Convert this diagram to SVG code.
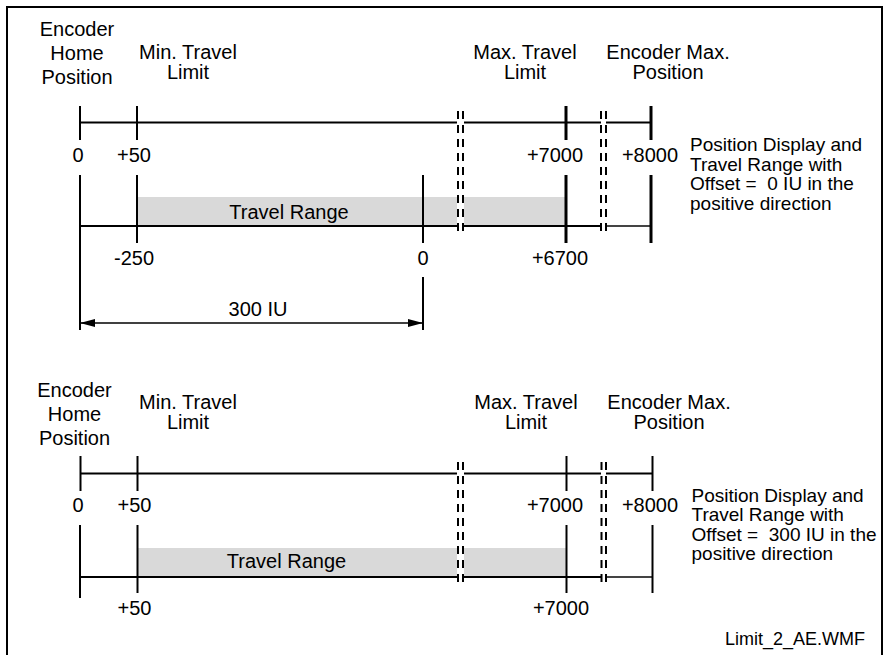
<svg xmlns="http://www.w3.org/2000/svg" width="896" height="655" viewBox="0 0 896 655">
<style>
text{font-family:"Liberation Sans",Arial,sans-serif;font-size:20px;fill:#000}
.m{text-anchor:middle}
.pd{font-size:19px}
.ax{stroke:#000;stroke-width:2;fill:none}
.tk{stroke:#000;stroke-width:2}
.tk3{stroke:#000;stroke-width:3}
.brk{stroke:#000;stroke-width:2;stroke-dasharray:8 6}
.gap{fill:#fff}
.rng{fill:#d9d9d9}
.dim{stroke:#000;stroke-width:1.5}
</style>
<defs>
<marker id="ah" viewBox="0 0 15 8" refX="15" refY="4" markerWidth="15" markerHeight="8" markerUnits="userSpaceOnUse" orient="auto-start-reverse">
<path d="M0,0 L15,4 L0,8 Z" fill="#000"/>
</marker>
</defs>
<rect x="7" y="7" width="875" height="660" fill="none" stroke="#000" stroke-width="2"/>

<g id="top-diagram">
<g id="top-labels">
<text class="m" x="77" y="36">Encoder</text>
<text class="m" x="77" y="60">Home</text>
<text class="m" x="77" y="84">Position</text>
<text class="m" x="188" y="59">Min. Travel</text>
<text class="m" x="188" y="79">Limit</text>
<text class="m" x="525" y="59">Max. Travel</text>
<text class="m" x="525" y="79">Limit</text>
<text class="m" x="668" y="59">Encoder Max.</text>
<text class="m" x="668" y="79">Position</text>
<text class="m" x="78" y="162">0</text>
<text class="m" x="134" y="162">+50</text>
<text class="m" x="555" y="162">+7000</text>
<text class="m" x="650" y="162">+8000</text>
<text class="m" x="134" y="265">-250</text>
<text class="m" x="423" y="265">0</text>
<text class="m" x="560" y="265">+6700</text>
<text class="pd" x="690" y="151">Position Display and</text>
<text class="pd" x="690" y="170.5">Travel Range with</text>
<text class="pd" x="690" y="190" xml:space="preserve">Offset =  0 IU in the</text>
<text class="pd" x="690" y="209.5">positive direction</text>
</g>
<rect class="rng" x="137" y="197" width="429" height="29"/>
<text class="m" x="289" y="219">Travel Range</text>
<line class="ax" x1="80" y1="122.5" x2="651" y2="122.5"/>
<line class="ax" x1="80" y1="226" x2="601" y2="226"/>
<line x1="601" y1="226" x2="651" y2="226" stroke="#444" stroke-width="2"/>
<g id="top-ticks">
<line class="tk" x1="80" y1="106" x2="80" y2="140"/>
<line class="tk" x1="137" y1="106" x2="137" y2="140"/>
<line class="tk3" x1="566" y1="106" x2="566" y2="140"/>
<line class="tk3" x1="651" y1="106" x2="651" y2="140"/>
<line class="tk" x1="80" y1="175" x2="80" y2="330"/>
<line class="tk" x1="137" y1="175" x2="137" y2="243"/>
<line class="tk" x1="423" y1="175" x2="423" y2="243"/>
<line class="tk" x1="423" y1="277" x2="423" y2="330"/>
<line class="tk3" x1="566" y1="175" x2="566" y2="243"/>
<line class="tk3" x1="651" y1="175" x2="651" y2="243"/>
</g>
<g id="top-breaks">
<rect class="gap" x="457" y="110" width="7" height="124"/>
<line class="brk" x1="458" y1="111" x2="458" y2="233"/>
<line class="brk" x1="463" y1="111" x2="463" y2="233"/>
<rect class="gap" x="601" y="110" width="5" height="124"/>
<line class="brk" x1="601" y1="111" x2="601" y2="233"/>
<line class="brk" x1="606" y1="111" x2="606" y2="233"/>
</g>
</g>

<g id="connectors">
<line class="dim" x1="80" y1="323" x2="423" y2="323" marker-start="url(#ah)" marker-end="url(#ah)"/>
</g>
<text id="dim-label" class="m" x="258" y="316">300 IU</text>

<g id="bottom-diagram">
<g id="bottom-labels">
<text class="m" x="74.5" y="397">Encoder</text>
<text class="m" x="74.5" y="421">Home</text>
<text class="m" x="74.5" y="445">Position</text>
<text class="m" x="188" y="409">Min. Travel</text>
<text class="m" x="188" y="429">Limit</text>
<text class="m" x="526" y="409">Max. Travel</text>
<text class="m" x="526" y="429">Limit</text>
<text class="m" x="669" y="409">Encoder Max.</text>
<text class="m" x="669" y="429">Position</text>
<text class="m" x="78" y="512">0</text>
<text class="m" x="134.5" y="512">+50</text>
<text class="m" x="555" y="512">+7000</text>
<text class="m" x="650" y="512">+8000</text>
<text class="m" x="134.5" y="615">+50</text>
<text class="m" x="561" y="615">+7000</text>
<text class="pd" x="691.5" y="501.5">Position Display and</text>
<text class="pd" x="691.5" y="521">Travel Range with</text>
<text class="pd" x="691.5" y="540.5" xml:space="preserve">Offset =  300 IU in the</text>
<text class="pd" x="691.5" y="560">positive direction</text>
</g>
<rect class="rng" x="138" y="548" width="429" height="29"/>
<text class="m" x="286.5" y="568">Travel Range</text>
<line class="ax" x1="80.5" y1="473.5" x2="653" y2="473.5"/>
<line class="ax" x1="80" y1="577" x2="601" y2="577"/>
<line x1="601" y1="577" x2="653" y2="577" stroke="#444" stroke-width="2"/>
<g id="bottom-ticks">
<line class="tk" x1="80.5" y1="456" x2="80.5" y2="491"/>
<line class="tk" x1="137.5" y1="456" x2="137.5" y2="491"/>
<line class="tk" x1="566.5" y1="456" x2="566.5" y2="491"/>
<line class="tk" x1="652.5" y1="456" x2="652.5" y2="491"/>
<line class="tk" x1="80" y1="525" x2="80" y2="598"/>
<line class="tk" x1="137.5" y1="525" x2="137.5" y2="593"/>
<line class="tk" x1="566.5" y1="525" x2="566.5" y2="593"/>
<line class="tk" x1="652.5" y1="525" x2="652.5" y2="593"/>
</g>
<g id="bottom-breaks">
<rect class="gap" x="457" y="461" width="7" height="122"/>
<line class="brk" x1="458" y1="462" x2="458" y2="582"/>
<line class="brk" x1="463" y1="462" x2="463" y2="582"/>
<rect class="gap" x="601" y="461" width="5" height="122"/>
<line class="brk" x1="601.5" y1="462" x2="601.5" y2="582"/>
<line class="brk" x1="606" y1="462" x2="606" y2="582"/>
</g>
</g>
<text id="file-name" x="725" y="645" style="font-size:18px">Limit_2_AE.WMF</text>
</svg>
